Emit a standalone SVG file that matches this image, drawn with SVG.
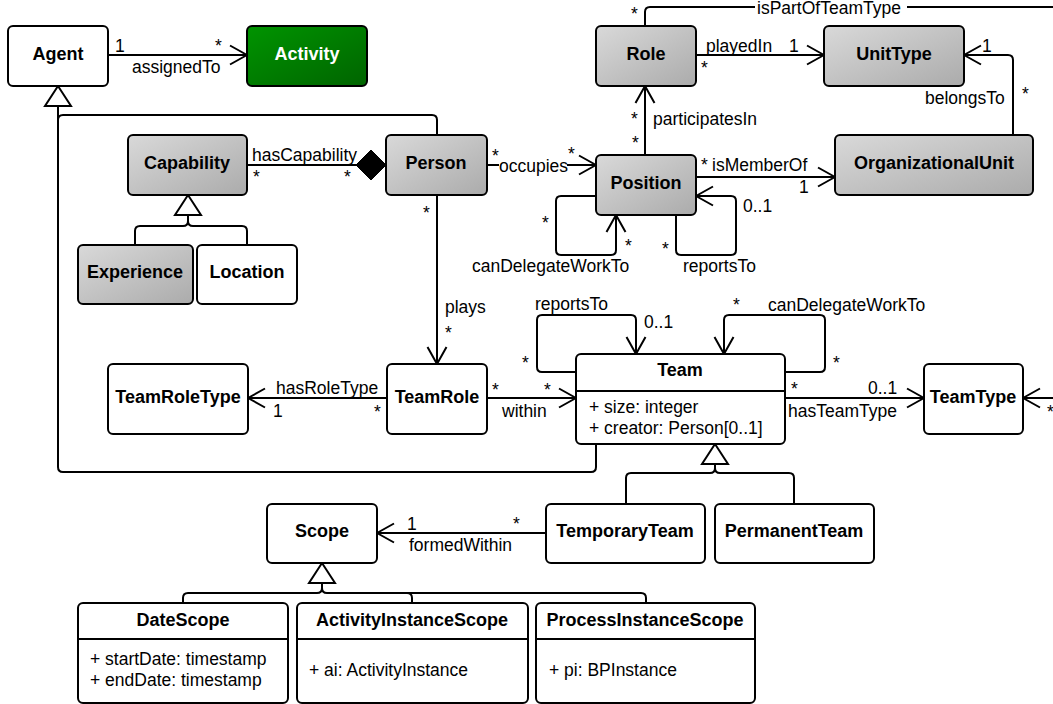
<svg xmlns="http://www.w3.org/2000/svg" width="1053" height="704" viewBox="0 0 1053 704">
<defs>
<linearGradient id="gray" x1="0" y1="0" x2="1" y2="1">
<stop offset="0" stop-color="#d9d9d9"/>
<stop offset="1" stop-color="#ababab"/>
</linearGradient>
<linearGradient id="green" x1="0" y1="0" x2="1" y2="1">
<stop offset="0" stop-color="#009400"/>
<stop offset="1" stop-color="#006400"/>
</linearGradient>
<marker id="arr" viewBox="0 0 19 22" refX="18" refY="11" markerWidth="19" markerHeight="22" markerUnits="userSpaceOnUse" orient="auto">
<path d="M1,1.5 L18,11 L1,20.5" fill="none" stroke="#000" stroke-width="2"/>
</marker>
</defs>
<style>
.box{stroke:#000;stroke-width:2;fill:#fff}
.g{fill:url(#gray)}
.name{font-family:"Liberation Sans",Arial,sans-serif;font-size:18px;font-weight:bold;text-anchor:middle;fill:#000}
.lbl{font-family:"Liberation Sans",Arial,sans-serif;font-size:17.5px;fill:#000}
.ln{fill:none;stroke:#000;stroke-width:2}
.a{marker-end:url(#arr)}
.tri{fill:#fff;stroke:#000;stroke-width:2;stroke-linejoin:miter}
</style>
<rect width="1053" height="704" fill="#fff"/>

<g id="connectors">
<path class="ln a" d="M108,55 L247,55"/>
<path class="ln" d="M58,106 L58,467 Q58,472 63,472 L591,472 Q596,472 596,467 L596,444"/>
<path class="ln" d="M58,120 Q58,115 63,115 L432,115 Q437,115 437,120 L437,135"/>
<polygon class="tri" points="58,86 45,106 71,106"/>
<path class="ln" d="M247,165 L357,165"/>
<polygon points="386,165 371,150 356,165 371,180" fill="#000" stroke="#000" stroke-width="1"/>
<path class="ln" d="M188,215 L188,221 Q188,226 183,226 L140,226 Q135,226 135,231 L135,245 M188,221 Q188,226 193,226 L242,226 Q247,226 247,231 L247,245"/>
<polygon class="tri" points="188,195 175,215 201,215"/>
<path class="ln a" d="M437,195 L437,364"/>
<path class="ln a" d="M387,398 L248,398"/>
<path class="ln a" d="M487,398 L576,398"/>
<path class="ln a" d="M576,372 L542,372 Q537,372 537,367 L537,320 Q537,315 542,315 L631,315 Q636,315 636,320 L636,354"/>
<path class="ln a" d="M785,372 L820,372 Q825,372 825,367 L825,320 Q825,315 820,315 L729,315 Q724,315 724,320 L724,354"/>
<path class="ln a" d="M785,398 L924,398"/>
<path class="ln a" d="M1062,398 L1023,398"/>
<path class="ln" d="M645,26 L645,12 Q645,7 650,7 L1062,7"/>
<path class="ln a" d="M696,55 L824,55"/>
<path class="ln a" d="M1013,135 L1013,60 Q1013,55 1008,55 L964,55"/>
<path class="ln a" d="M645,155 L645,86"/>
<path class="ln a" d="M487,165 L596,165"/>
<path class="ln a" d="M696,177 L835,177"/>
<path class="ln a" d="M676,215 L676,250 Q676,255 681,255 L731,255 Q736,255 736,250 L736,201 Q736,196 731,196 L696,196"/>
<path class="ln a" d="M596,196 L561,196 Q556,196 556,201 L556,250 Q556,255 561,255 L611,255 Q616,255 616,250 L616,215"/>
<path class="ln a" d="M546,533 L377,533"/>
<path class="ln" d="M715,464 L715,468 Q715,473 710,473 L631,473 Q626,473 626,478 L626,504 M715,468 Q715,473 720,473 L789,473 Q794,473 794,478 L794,504"/>
<polygon class="tri" points="715,444 702,464 728,464"/>
<path class="ln" d="M322,583 L322,588 Q322,593 317,593 L188,593 Q183,593 183,598 L183,603 M322,588 Q322,593 327,593 L641,593 Q646,593 646,598 L646,603 M407,593 Q412,593 412,598 L412,603"/>
<polygon class="tri" points="322,563 309,583 335,583"/>

<text class="lbl" x="115" y="52">1</text>
<text class="lbl" x="215" y="52">*</text>
<text class="lbl" x="132" y="73">assignedTo</text>
<text class="lbl" x="252" y="161">hasCapability</text>
<text class="lbl" x="253" y="183">*</text>
<text class="lbl" x="344" y="183">*</text>
<text class="lbl" x="423" y="219">*</text>
<text class="lbl" x="445" y="313">plays</text>
<text class="lbl" x="445" y="339">*</text>
<text class="lbl" x="276" y="394">hasRoleType</text>
<text class="lbl" x="273" y="417">1</text>
<text class="lbl" x="374" y="418">*</text>
<text class="lbl" x="492" y="396">*</text>
<text class="lbl" x="544" y="396">*</text>
<text class="lbl" x="502" y="417">within</text>
<text class="lbl" x="522" y="369">*</text>
<text class="lbl" x="535" y="310">reportsTo</text>
<text class="lbl" x="644" y="328">0..1</text>
<text class="lbl" x="733" y="311">*</text>
<text class="lbl" x="768" y="311">canDelegateWorkTo</text>
<text class="lbl" x="833" y="369">*</text>
<text class="lbl" x="791" y="395">*</text>
<text class="lbl" x="868" y="394">0..1</text>
<text class="lbl" x="788" y="417">hasTeamType</text>
<text class="lbl" x="1047" y="418">*</text>
<text class="lbl" x="631" y="20">*</text>
<rect x="755" y="0" width="152" height="16" fill="#fff"/>
<text class="lbl" x="757" y="14">isPartOfTeamType</text>
<text class="lbl" x="706" y="52">playedIn</text>
<text class="lbl" x="789" y="52">1</text>
<text class="lbl" x="701" y="74">*</text>
<text class="lbl" x="982" y="52">1</text>
<text class="lbl" x="925" y="104">belongsTo</text>
<text class="lbl" x="1022" y="100">*</text>
<text class="lbl" x="631" y="125">*</text>
<text class="lbl" x="653" y="125">participatesIn</text>
<text class="lbl" x="632" y="149">*</text>
<text class="lbl" x="492" y="162">*</text>
<rect x="499" y="157" width="68" height="14" fill="#fff"/>
<text class="lbl" x="499" y="172">occupies</text>
<text class="lbl" x="568" y="160">*</text>
<text class="lbl" x="701" y="171">*</text>
<text class="lbl" x="712" y="171">isMemberOf</text>
<text class="lbl" x="799" y="193">1</text>
<text class="lbl" x="743" y="212">0..1</text>
<text class="lbl" x="542" y="229">*</text>
<text class="lbl" x="625" y="252">*</text>
<text class="lbl" x="662" y="255">*</text>
<text class="lbl" x="472" y="272">canDelegateWorkTo</text>
<text class="lbl" x="683" y="272">reportsTo</text>
<text class="lbl" x="407" y="530">1</text>
<text class="lbl" x="513" y="530">*</text>
<text class="lbl" x="409" y="551">formedWithin</text>
</g>

<g id="agent"><rect class="box" x="8" y="26" width="100" height="60" rx="5"/><text class="name" x="58" y="60">Agent</text></g>
<g id="activity"><rect class="box" x="247" y="26" width="120" height="60" rx="5" style="fill:url(#green)"/><text class="name" x="307" y="60" style="fill:#fff">Activity</text></g>
<g id="role"><rect class="box g" x="596" y="26" width="100" height="60" rx="5"/><text class="name" x="646" y="60">Role</text></g>
<g id="unittype"><rect class="box g" x="824" y="26" width="140" height="60" rx="5"/><text class="name" x="894" y="60">UnitType</text></g>
<g id="capability"><rect class="box g" x="128" y="135" width="119" height="60" rx="5"/><text class="name" x="187" y="169">Capability</text></g>
<g id="person"><rect class="box g" x="386" y="135" width="101" height="60" rx="5"/><text class="name" x="436" y="169">Person</text></g>
<g id="position"><rect class="box g" x="596" y="155" width="100" height="60" rx="5"/><text class="name" x="646" y="189">Position</text></g>
<g id="organizationalunit"><rect class="box g" x="835" y="135" width="198" height="60" rx="5"/><text class="name" x="934" y="169">OrganizationalUnit</text></g>
<g id="experience"><rect class="box g" x="78" y="245" width="115" height="59" rx="5"/><text class="name" x="135" y="278">Experience</text></g>
<g id="location"><rect class="box" x="197" y="245" width="100" height="59" rx="5"/><text class="name" x="247" y="278">Location</text></g>
<g id="teamroletype"><rect class="box" x="108" y="364" width="140" height="70" rx="5"/><text class="name" x="178" y="403">TeamRoleType</text></g>
<g id="teamrole"><rect class="box" x="387" y="364" width="100" height="70" rx="5"/><text class="name" x="437" y="403">TeamRole</text></g>
<g id="team"><rect class="box" x="576" y="354" width="209" height="90" rx="5"/><line x1="576" y1="391" x2="785" y2="391" stroke="#000" stroke-width="2"/><text class="name" x="680" y="376">Team</text><text class="lbl" x="589" y="413">+ size: integer</text><text class="lbl" x="589" y="434">+ creator: Person[0..1]</text></g>
<g id="teamtype"><rect class="box" x="924" y="364" width="99" height="70" rx="5"/><text class="name" x="973" y="403">TeamType</text></g>
<g id="scope"><rect class="box" x="267" y="504" width="110" height="59" rx="5"/><text class="name" x="322" y="537">Scope</text></g>
<g id="temporaryteam"><rect class="box" x="546" y="504" width="159" height="59" rx="5"/><text class="name" x="625" y="537">TemporaryTeam</text></g>
<g id="permanentteam"><rect class="box" x="715" y="504" width="159" height="59" rx="5"/><text class="name" x="794" y="537">PermanentTeam</text></g>
<g id="datescope"><rect class="box" x="78" y="603" width="210" height="100" rx="5"/><line x1="78" y1="639" x2="288" y2="639" stroke="#000" stroke-width="2"/><text class="name" x="183" y="626">DateScope</text><text class="lbl" x="90" y="665">+ startDate: timestamp</text><text class="lbl" x="90" y="686">+ endDate: timestamp</text></g>
<g id="activityinstancescope"><rect class="box" x="297" y="603" width="231" height="100" rx="5"/><line x1="297" y1="639" x2="528" y2="639" stroke="#000" stroke-width="2"/><text class="name" x="412" y="626">ActivityInstanceScope</text><text class="lbl" x="309" y="676">+ ai: ActivityInstance</text></g>
<g id="processinstancescope"><rect class="box" x="536" y="603" width="219" height="100" rx="5"/><line x1="536" y1="639" x2="755" y2="639" stroke="#000" stroke-width="2"/><text class="name" x="645" y="626">ProcessInstanceScope</text><text class="lbl" x="549" y="676">+ pi: BPInstance</text></g>
</svg>
